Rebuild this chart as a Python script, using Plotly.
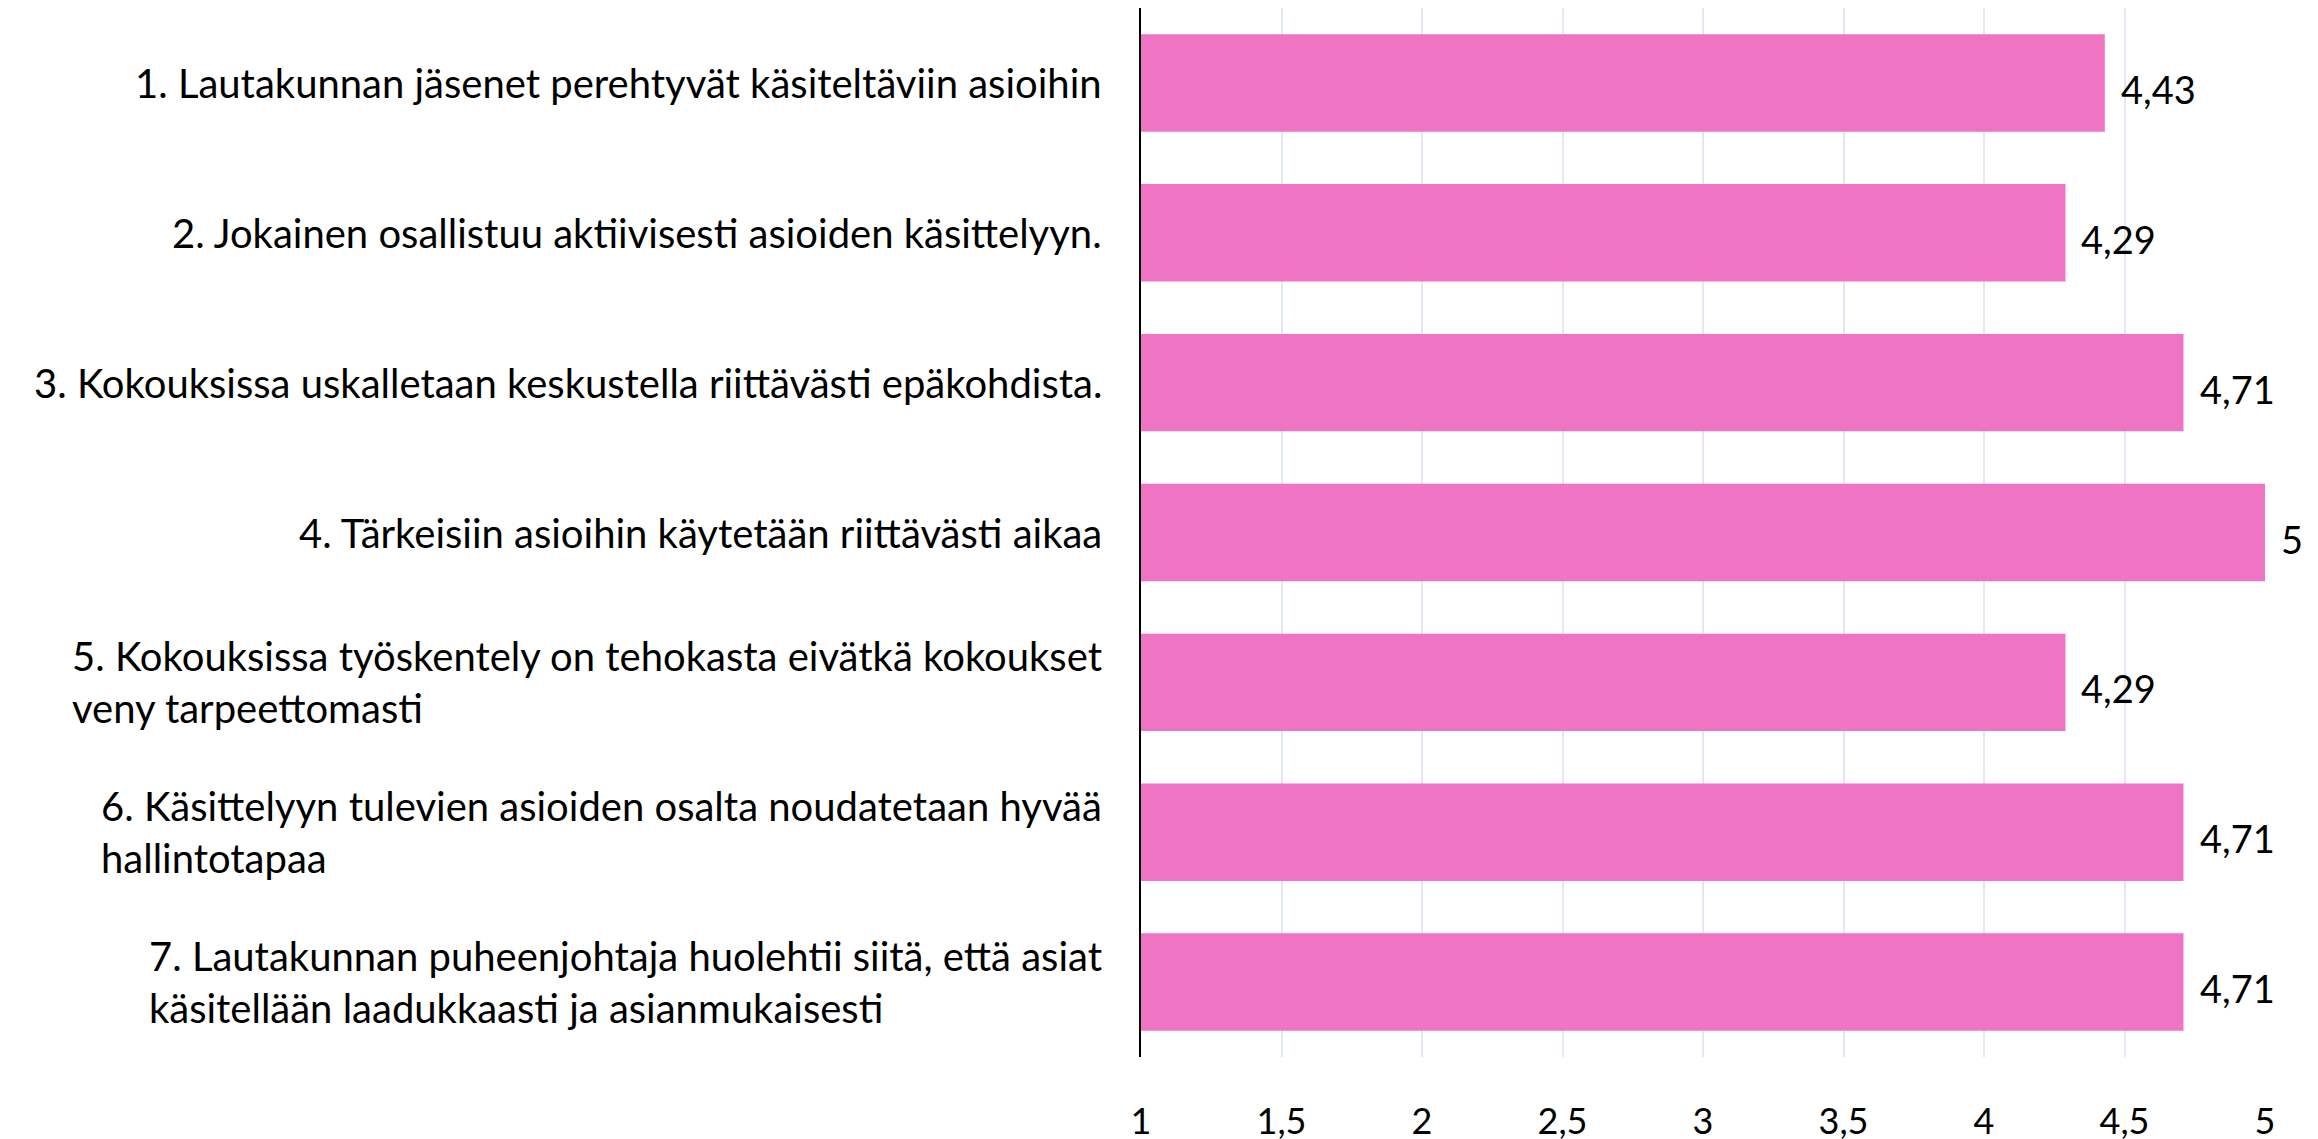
import plotly.graph_objects as go

categories = [
    "1. Lautakunnan jäsenet perehtyvät käsiteltäviin asioihin",
    "2. Jokainen osallistuu aktiivisesti asioiden käsittelyyn.",
    "3. Kokouksissa uskalletaan keskustella riittävästi epäkohdista.",
    "4. Tärkeisiin asioihin käytetään riittävästi aikaa",
    "5. Kokouksissa työskentely on tehokasta eivätkä kokoukset<br>veny tarpeettomasti",
    "6. Käsittelyyn tulevien asioiden osalta noudatetaan hyvää<br>hallintotapaa",
    "7. Lautakunnan puheenjohtaja huolehtii siitä, että asiat<br>käsitellään laadukkaasti ja asianmukaisesti",
]
values = [4.43, 4.29, 4.71, 5, 4.29, 4.71, 4.71]
value_labels = ["4,43", "4,29", "4,71", "5", "4,29", "4,71", "4,71"]
tick_vals = [1, 1.5, 2, 2.5, 3, 3.5, 4, 4.5, 5]
tick_text = ["1", "1,5", "2", "2,5", "3", "3,5", "4", "4,5", "5"]

FONT = "Lato"
W, H = 2318, 1139

fig = go.Figure()
fig.add_trace(go.Bar(
    x=values, y=categories, orientation="h",
    marker=dict(color="#ef74c3", line=dict(width=0)),
    hoverinfo="skip", showlegend=False,
))

for cat in categories:
    fig.add_annotation(
        x=0, xref="paper", y=cat, yref="y",
        text=cat, showarrow=False, xanchor="right", yanchor="middle",
        align="left", xshift=-37,
        font=dict(family=FONT, size=40, color="#000000"),
    )

for cat, v, lab in zip(categories, values, value_labels):
    fig.add_annotation(
        x=v, xref="x", y=cat, yref="y",
        text=lab, showarrow=False, xanchor="left", yanchor="middle",
        xshift=14, yshift=-6,
        font=dict(family=FONT, size=38, color="#000000"),
    )

fig.update_layout(
    width=W, height=H,
    margin=dict(l=1133, r=61, t=0, b=90),
    paper_bgcolor="white", plot_bgcolor="white",
    bargap=0.35,
    font=dict(family=FONT, color="#000000"),
    xaxis=dict(
        range=[1, 5], tickvals=tick_vals, ticktext=tick_text,
        showgrid=True, gridcolor="#dfe8f3", gridwidth=1.5,
        zeroline=False, showline=False, ticks="",
        tickfont=dict(family=FONT, size=36, color="#000000"),
        ticklabelstandoff=40,
    ),
    yaxis=dict(
        autorange="reversed", showticklabels=False,
        showline=True, linecolor="#000000", linewidth=1.5,
        showgrid=False, zeroline=False, ticks="",
    ),
)

fig.write_html("out.html")
